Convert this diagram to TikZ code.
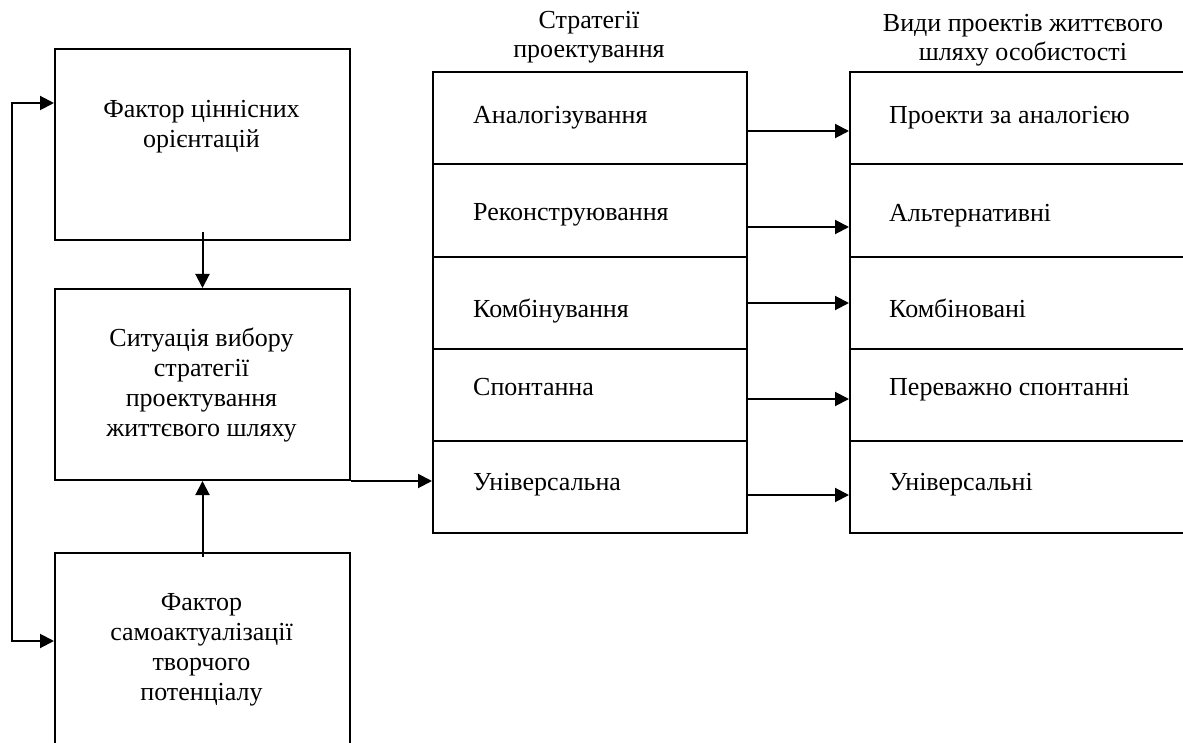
\documentclass[tikz,border=0pt]{standalone}
\usepackage{fontspec}
\setmainfont{Liberation Serif}
\usetikzlibrary{arrows.meta,calc}
\newcommand{\txt}{\fontsize{26}{30}\selectfont}
\newcommand{\htxt}{\fontsize{26}{28.5}\selectfont}
\newcommand{\lines}[1]{\begin{tabular}[t]{@{}c@{}}#1\end{tabular}}
\begin{document}
\begin{tikzpicture}[x=1pt,y=-1pt,
  box/.style={draw, line width=2pt, rectangle, inner sep=0pt, anchor=north west},
  lbl/.style={anchor=base, inner sep=0pt, font=\txt},
  hlbl/.style={anchor=base, inner sep=0pt, font=\htxt},
  rowlbl/.style={anchor=base west, inner sep=0pt, font=\txt},
  arr/.style={line width=2pt, -{Triangle[length=14pt,width=14pt]}},
  arrs/.style={line width=2pt, {Triangle[length=14pt,width=14pt]}-{Triangle[length=14pt,width=14pt]}}]
\useasboundingbox[fill=white] (0,0) rectangle (1183,743);
\clip (0,0) rectangle (1183,743);
% left boxes
\node[box, minimum width=295pt, minimum height=191pt] (b1) at (54,48) {};
\node[box, minimum width=295pt, minimum height=191pt] (b2) at (54,288) {};
\node[box, minimum width=295pt, minimum height=191pt] (b3) at (54,552) {};
\node[lbl] (t1) at (201.5,118) {\lines{Фактор ціннісних\\орієнтацій}};
\node[lbl] (t2) at (201.5,346) {\lines{Ситуація вибору\\стратегії\\проектування\\життєвого шляху}};
\node[lbl] (t3) at (201.5,610) {\lines{Фактор\\самоактуалізації\\творчого\\потенціалу}};
% middle column
\node[box, minimum width=314pt, minimum height=92pt] (s1) at (432,71) {};
\node[box, minimum width=314pt, minimum height=93pt] (s2) at (432,163) {};
\node[box, minimum width=314pt, minimum height=92pt] (s3) at (432,256) {};
\node[box, minimum width=314pt, minimum height=92pt] (s4) at (432,348) {};
\node[box, minimum width=314pt, minimum height=92pt] (s5) at (432,440) {};
\node[rowlbl] (ts1) at (473,124) {Аналогізування};
\node[rowlbl] (ts2) at (473,221) {Реконструювання};
\node[rowlbl] (ts3) at (473,317) {Комбінування};
\node[rowlbl] (ts4) at (473,395) {Спонтанна};
\node[rowlbl] (ts5) at (473,490) {Універсальна};
% right column
\node[box, minimum width=360pt, minimum height=92pt] (r1) at (849,71) {};
\node[box, minimum width=360pt, minimum height=93pt] (r2) at (849,163) {};
\node[box, minimum width=360pt, minimum height=92pt] (r3) at (849,256) {};
\node[box, minimum width=360pt, minimum height=92pt] (r4) at (849,348) {};
\node[box, minimum width=360pt, minimum height=92pt] (r5) at (849,440) {};
\node[rowlbl] (tr1) at (889,124) {Проекти за аналогією};
\node[rowlbl] (tr2) at (889,222) {Альтернативні};
\node[rowlbl] (tr3) at (889,317) {Комбіновані};
\node[rowlbl] (tr4) at (889,395) {Переважно спонтанні};
\node[rowlbl] (tr5) at (889,490) {Універсальні};
% headers
\node[hlbl] (h1) at (589,29) {\lines{Стратегії\\проектування}};
\node[hlbl] (h2) at (1023,32) {\lines{Види проектів життєвого\\шляху особистості}};
% connectors
\draw[arr] ([yshift=9pt]b1.south) -- (b2.north);
\draw[arr] ([yshift=-5pt]b3.north) -- (b2.south);
\draw[arr] (b2.south east) -- (b2.south east -| s5.west);
\coordinate (f1) at (12,103);
\coordinate (f3) at (12,641);
\draw[arrs] (b1.west |- f1) -- (f1) -- (f3) -- (b3.west |- f3);
\draw[arr] ([yshift=-13pt]s1.east) -- ([yshift=-13pt]r1.west);
\draw[arr] ([yshift=-16.5pt]s2.east) -- ([yshift=-16.5pt]r2.west);
\draw[arr] (s3.east) -- (r3.west);
\draw[arr] ([yshift=-4pt]s4.east) -- ([yshift=-4pt]r4.west);
\draw[arr] ([yshift=-8pt]s5.east) -- ([yshift=-8pt]r5.west);
\end{tikzpicture}
\end{document}
